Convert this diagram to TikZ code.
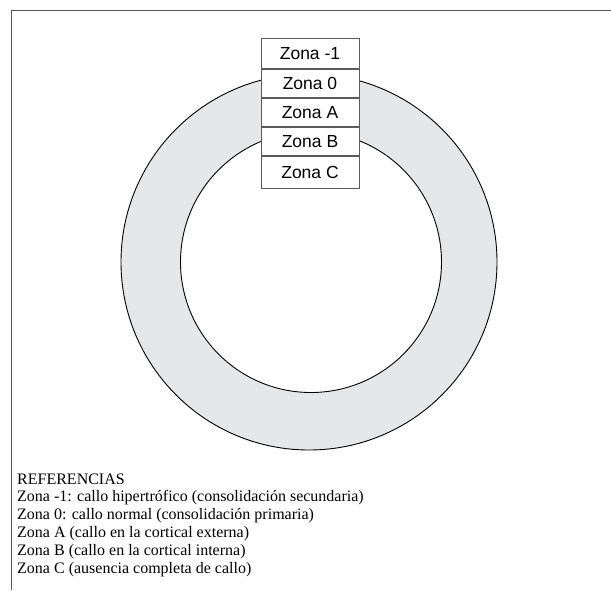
\documentclass[tikz,border=0pt]{standalone}
\usepackage{fontspec}
\setmainfont{Liberation Serif}
\newfontfamily\arialf{Liberation Sans}
\definecolor{ringgray}{HTML}{E6E7E8}
\definecolor{framegray}{HTML}{555555}
\definecolor{boxgray}{HTML}{5A5A5A}
\tikzset{
  zonebox/.style={draw=boxgray, line width=0.9pt, fill=white, minimum width=98pt, inner sep=0pt, font=\arialf\fontsize{17.5}{20}\selectfont, anchor=north},
  ringline/.style={draw=black, line width=0.9pt},
}
\begin{document}
\begin{tikzpicture}[x=1pt, y=-1pt]
\useasboundingbox (0,0) rectangle (611,590);
% frame (only top and left edges visible)
\draw[framegray, line width=1.6pt] (11.5,590) -- (11.5,10.5) -- (611,10.5);
% ring
\fill[ringgray] (309,262) circle[radius=188];
\draw[ringline] (309,262) circle[radius=188];
\filldraw[ringline, fill=white] (311,262) circle[radius=130.5];
% zone boxes
\node[zonebox, minimum height=29.5pt] (z1) at (310,38.3) {Zona -1};
\node[zonebox, minimum height=28pt] (z0) at (z1.south) {Zona 0};
\node[zonebox, minimum height=28.3pt] (za) at (z0.south) {Zona A};
\node[zonebox, minimum height=28.5pt] (zb) at (za.south) {Zona B};
\node[zonebox, minimum height=32pt] (zc) at (zb.south) {Zona C};
% legend (base anchor = baseline of last line)
\node[anchor=base west, align=left, inner sep=0pt, font=\fontsize{16}{17.8}\selectfont] (ref) at (17,573) {REFERENCIAS\\
Zona -1: callo hipertrófico (consolidación secundaria)\\
Zona 0: callo normal (consolidación primaria)\\
Zona A (callo en la cortical externa)\\
Zona B (callo en la cortical interna)\\
Zona C (ausencia completa de callo)};
\end{tikzpicture}
\end{document}
